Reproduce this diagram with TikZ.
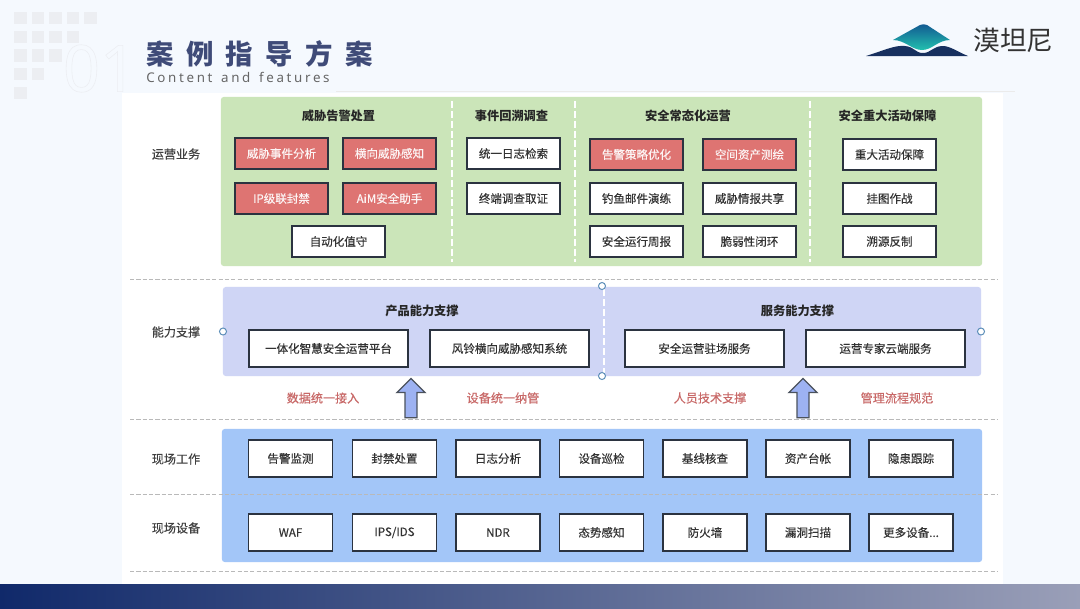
\documentclass[tikz,border=0pt]{standalone}
\usepackage{fontspec}
\usepackage{xcolor}
\setmainfont{Noto Sans CJK SC}
\newfontfamily\medfont[FakeBold=0.35]{Noto Sans CJK SC}
\newfontfamily\headfont[LetterSpace=45]{Noto Sans CJK SC}
\newfontfamily\subfont[LetterSpace=20,WordSpace=1.4]{Noto Sans}
\newfontfamily\numfont{Noto Sans}
\usetikzlibrary{shapes.arrows,positioning,calc}
\definecolor{pagebg}{HTML}{F5F9FE}
\definecolor{verde}{HTML}{CBE5B9}
\definecolor{lila}{HTML}{CFD5F5}
\definecolor{azul}{HTML}{A3C6F8}
\definecolor{rojo}{HTML}{DE7472}
\definecolor{tinta}{HTML}{2B3340}
\definecolor{titulo}{HTML}{3F4B78}
\definecolor{barraA}{HTML}{10296A}
\definecolor{barraM}{HTML}{3A4676}
\definecolor{barraB}{HTML}{9A9FB8}
\definecolor{cerro}{HTML}{17305F}
\definecolor{cimaA}{HTML}{125A92}
\definecolor{cimaB}{HTML}{22C0AE}
\definecolor{asaazul}{HTML}{5B8DB8}
\definecolor{flechazul}{HTML}{9DB2F2}
\definecolor{palido}{HTML}{ECEEF2}
\def\masequipos{更多设备...}
\tikzset{
  caja/.style={rectangle, draw=tinta, fill=white, line width=1.1pt,
               minimum width=2.33cm, minimum height=0.78cm,
               inner sep=0pt, font=\fontsize{8.2}{10}\selectfont\medfont, text=black!80},
  cajaroja/.style={caja, fill=rojo, text=white!92!rojo},
  cajaancha/.style={caja, minimum width=3.975cm, minimum height=0.93cm},
  cajabase/.style={caja, minimum width=2.1cm, minimum height=0.93cm},
  panel/.style={rectangle, rounded corners=2pt, inner sep=0pt},
  cabecera/.style={font=\fontsize{8.7}{10}\selectfont\bfseries, text=black!85},
  capa/.style={font=\fontsize{8.6}{10}\selectfont\medfont, text=black!75},
  lema/.style={font=\fontsize{8.6}{10}\selectfont\medfont, text=rojo!90!black},
  corte/.style={dash pattern=on 3pt off 1.5pt, gray!55, line width=0.5pt},
  divisor/.style={dash pattern=on 5pt off 2pt, white, line width=1.1pt},
  asa/.style={circle, draw=asaazul, fill=white, line width=0.7pt,
              minimum size=0.175cm, inner sep=0pt},
  flechota/.style={single arrow, draw=tinta!85, fill=flechazul, line width=0.9pt,
                   shape border rotate=90, minimum height=0.98cm, minimum width=0.7cm,
                   single arrow head extend=0.2cm, inner sep=0.13cm},
  cuadro/.style={rectangle, fill=palido, minimum size=0.31cm, inner sep=0pt}
}
\begin{document}
\begin{tikzpicture}[x=0.025cm,y=-0.025cm]
  % --- Fondo ---
  \fill[pagebg] (0,0) rectangle (1080,608);
  \useasboundingbox (0,0) rectangle (1080,608);
  \fill[white] (122,93) rectangle (1003,584);
  \draw[black!8, line width=0.5pt] (336,91) -- (1015,91);
  \shade[left color=barraA, middle color=barraM, right color=barraB] (0,584) rectangle (1080,608);

  % --- Cuadros y cabecera ---
  \foreach \fila/\n in {0/5,1/4,2/3,3/2,4/1}
    \foreach \k in {1,...,\n}
      \node[cuadro] (c\fila\k) at ({3+17.5*\k},{18+18.75*\fila}) {};
  \node[text=palido, font=\fontsize{46}{46}\selectfont\numfont] (num) at (100,68.5) {\special{pdf:code 1 Tr 0.4 w}01\special{pdf:code 0 Tr}};
  \node[anchor=west, inner sep=0pt, text=titulo, font=\fontsize{19.5}{22}\selectfont\headfont\bfseries] (tit) at (146,54) {案例指导方案};
  \node[anchor=west, inner sep=0pt, text=black!60, font=\fontsize{9.5}{11}\selectfont\subfont] (sub) at (146,77) {Content and features};

  % --- Logo ---
  \fill[cerro] (866,56) .. controls (885,50) and (895,45) .. (905,46) .. controls (915,47) and (915,53) .. (923,53) .. controls (931,53) and (933,46) .. (943,46) .. controls (950,46) and (958,52) .. (968,56) -- cycle;
  \shade[top color=cimaA, bottom color=cimaB] (893,40) -- (920,25) .. controls (922,24) and (925,24) .. (927,25) -- (950,40) .. controls (938,40) and (932,50) .. (922,50) .. controls (912,50) and (905,40) .. (893,40) -- cycle;
  \node[anchor=west, inner sep=0pt, text=black!80, font=\fontsize{19}{22}\selectfont] (marca) at (973,40) {漠坦尼};

  % --- Paneles ---
  \node[panel, fill=verde, minimum width=19.025cm, minimum height=4.225cm] (pv) at (601.5,181.5) {};
  \node[panel, fill=lila, minimum width=18.95cm, minimum height=2.225cm] (pl) at (602,331.5) {};
  \node[panel, fill=azul, minimum width=19cm, minimum height=3.325cm] (pa) at (602,495.5) {};

  % --- Lineas de corte ---
  \foreach \y in {279,419,494,571} \draw[corte] (130,\y) -- (997,\y);
  \foreach \x in {452,575,810} \draw[divisor] (\x,101) -- (\x,262);
  \draw[divisor] (604,289) -- (604,375);

  % --- Capas ---
  \node[capa] (c1) at (176,154) {运营业务};
  \node[capa] (c2) at (176,332) {能力支撑};
  \node[capa] (c3) at (176,459) {现场工作};
  \node[capa] (c4) at (176,528) {现场设备};

  % --- Operacion ---
  \node[cabecera] (h1) at (338.5,116) {威胁告警处置};
  \node[cabecera] (h2) at (511.5,116) {事件回溯调查};
  \node[cabecera] (h3) at (688,116) {安全常态化运营};
  \node[cabecera] (h4) at (887.5,116) {安全重大活动保障};
  \node[cajaroja] (a1) at (281.5,153.5) {威胁事件分析};
  \node[cajaroja] (a2) at (389.5,153.5) {横向威胁感知};
  \node[cajaroja] (a3) at (281.5,198.5) {IP级联封禁};
  \node[cajaroja] (a4) at (389.5,198.5) {AiM安全助手};
  \node[caja] (a5) at (338.5,241.5) {自动化值守};
  \node[caja] (b1) at (513.5,153.5) {统一日志检索};
  \node[caja] (b2) at (513.5,198.5) {终端调查取证};
  \node[cajaroja] (d1) at (636.5,154.5) {告警策略优化};
  \node[cajaroja] (d2) at (749.5,154.5) {空间资产测绘};
  \node[caja] (d3) at (636.5,198.5) {钓鱼邮件演练};
  \node[caja] (d4) at (749.5,198.5) {威胁情报共享};
  \node[caja] (d5) at (636.5,241.5) {安全运行周报};
  \node[caja] (d6) at (749.5,241.5) {脆弱性闭环};
  \node[caja] (e1) at (889.5,154.5) {重大活动保障};
  \node[caja] (e2) at (889.5,198.5) {挂图作战};
  \node[caja] (e3) at (889.5,241.5) {溯源反制};

  % --- Capacidades ---
  \node[cabecera] (h5) at (422,311) {产品能力支撑};
  \node[cabecera] (h6) at (797.5,311) {服务能力支撑};
  \node[cajaancha] (f1) at (328.5,348.5) {一体化智慧安全运营平台};
  \node[cajaancha] (f2) at (509.5,348.5) {风铃横向威胁感知系统};
  \node[cajaancha] (f3) at (704.5,348.5) {安全运营驻场服务};
  \node[cajaancha] (f4) at (885.5,348.5) {运营专家云端服务};
  \node[asa] (s1) at (223,331.5) {};
  \node[asa] (s2) at (602,286) {};
  \node[asa] (s3) at (602,376) {};
  \node[asa] (s4) at (981,331.5) {};
  \node[lema] (l1) at (323,398) {数据统一接入};
  \node[lema] (l2) at (503,398) {设备统一纳管};
  \node[lema] (l3) at (710,398) {人员技术支撑};
  \node[lema] (l4) at (897,398) {管理流程规范};
  \node[flechota] (fl1) at (411,401) {};
  \node[flechota] (fl2) at (803,401) {};

  % --- Campo ---
  \foreach \x/\n/\t/\u [count=\i] in {290.5/g1/告警监测/WAF,394.5/g2/封禁处置/IPS\slash IDS,498/g3/日志分析/NDR,601.5/g4/设备巡检/态势感知,705/g5/基线核查/防火墙,808/g6/资产台帐/漏洞扫描,911/g7/隐患跟踪/\masequipos} {
    \node[cajabase] (\n) at (\x,458.5) {\t};
    \node[cajabase] (k\i) at (\x,532.5) {\u};
  }
\end{tikzpicture}
\end{document}
